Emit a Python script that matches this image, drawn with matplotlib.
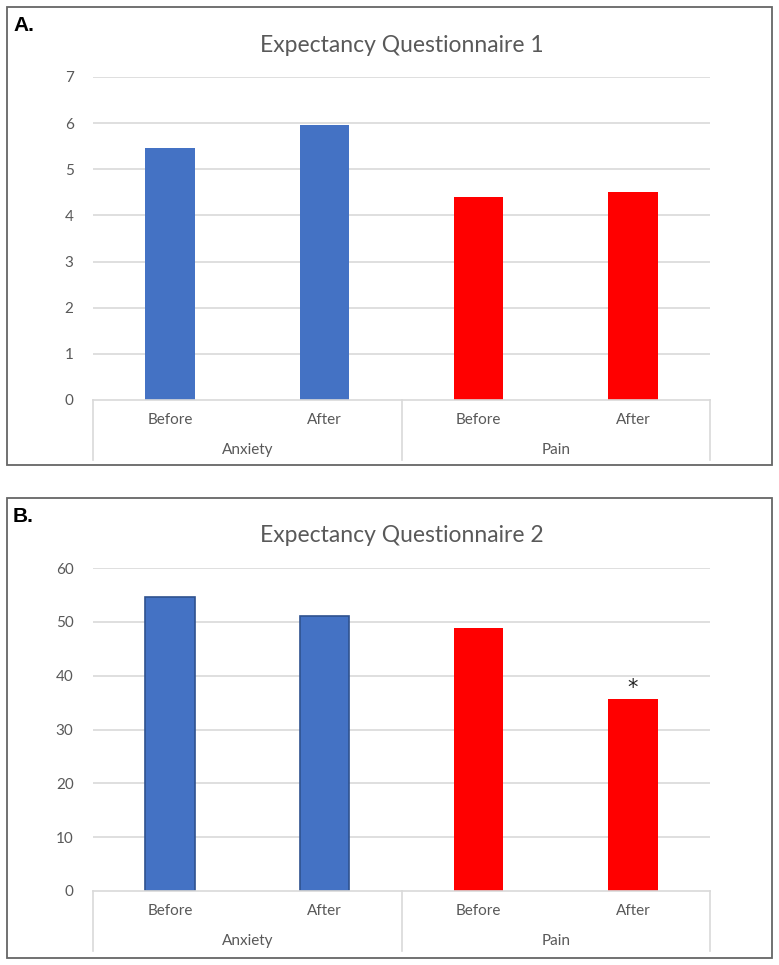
import matplotlib
matplotlib.use("Agg")
import matplotlib.pyplot as plt
from matplotlib.patches import Rectangle

# data
groups = ["Anxiety", "Pain"]
conditions = ["Before", "After", "Before", "After"]
q1_values = [5.46, 5.97, 4.39, 4.51]
q2_values = [54.7, 51.0, 48.9, 35.6]
q1_ticks = [0, 1, 2, 3, 4, 5, 6, 7]
q2_ticks = [0, 10, 20, 30, 40, 50, 60]
bar_colors = ["#4472C4", "#4472C4", "#FF0000", "#FF0000"]

W, H = 779, 965
plt.rcParams["font.family"] = ["Lato", "DejaVu Sans"]

fig = plt.figure(figsize=(W / 100, H / 100), dpi=100)


def rect(x0, x1, ytop, ybot):
    return [x0 / W, 1 - ybot / H, (x1 - x0) / W, (ybot - ytop) / H]


def panel_box(x0, x1, ytop, ybot, letter):
    fig.patches.append(Rectangle((x0 / W, 1 - ybot / H), (x1 - x0) / W, (ybot - ytop) / H,
                                 transform=fig.transFigure, fill=False,
                                 edgecolor="#666666", linewidth=1.3))
    fig.text((x0 + 6) / W, 1 - (ytop + 9) / H, letter, fontsize=15, fontweight="bold",
             family=["Liberation Sans", "DejaVu Sans"], va="top", ha="left")


def draw_chart(pos, values, ticks, title, edge, title_y):
    ax = fig.add_axes(rect(*pos))
    x = range(len(values))
    for i in x:
        ax.bar(i, values[i], width=0.32, color=bar_colors[i],
               edgecolor=edge[i], linewidth=1.2 if edge[i] != "none" else 0, zorder=3)
    ax.set_xlim(-0.5, 3.5)
    ax.set_ylim(ticks[0], ticks[-1])
    ax.set_yticks(ticks)
    ax.set_yticklabels([str(t) for t in ticks], fontsize=11, color="#595959")
    ax.tick_params(axis="y", length=0, pad=14)
    ax.set_xticks([])
    for s in ax.spines.values():
        s.set_visible(False)
    for t in ticks[1:]:
        ax.axhline(t, color="#D9D9D9", linewidth=1.2, zorder=1)
    ax.axhline(0, color="#D9D9D9", linewidth=1.2, zorder=4, clip_on=False)

    h = pos[3] - pos[2]
    tr = ax.get_xaxis_transform()
    for xd in [-0.5, 1.5, 3.5]:
        ax.plot([xd, xd], [0, -60 / h], color="#D9D9D9", linewidth=1.2,
                transform=tr, clip_on=False)
    for i, c in enumerate(conditions):
        ax.text(i, -20 / h, c, transform=tr, ha="center", va="center",
                fontsize=11, color="#595959")
    for j, g in enumerate(groups):
        ax.text(0.5 + 2 * j, -50 / h, g, transform=tr, ha="center", va="center",
                fontsize=11, color="#595959")
    fig.text(0.5 * (pos[0] + pos[1]) / W + 0.001, 1 - title_y / H, title, ha="center",
             va="center", fontsize=16.5, color="#595959")
    return ax


panel_box(7, 772, 7, 465, "A.")
draw_chart((93, 710, 77, 400), q1_values, q1_ticks, "Expectancy Questionnaire 1",
           ["none"] * 4, 45)

panel_box(7, 772, 498, 958, "B.")
axb = draw_chart((93, 710, 568, 891), q2_values, q2_ticks, "Expectancy Questionnaire 2",
                 ["#2F528F", "#2F528F", "none", "none"], 535)
axb.annotate("*", (3, q2_values[3]), xytext=(0, 1), textcoords="offset points",
             ha="center", va="bottom", fontsize=15, color="#222222",
             family=["DejaVu Sans"])

fig.savefig("out.png", dpi=100)
